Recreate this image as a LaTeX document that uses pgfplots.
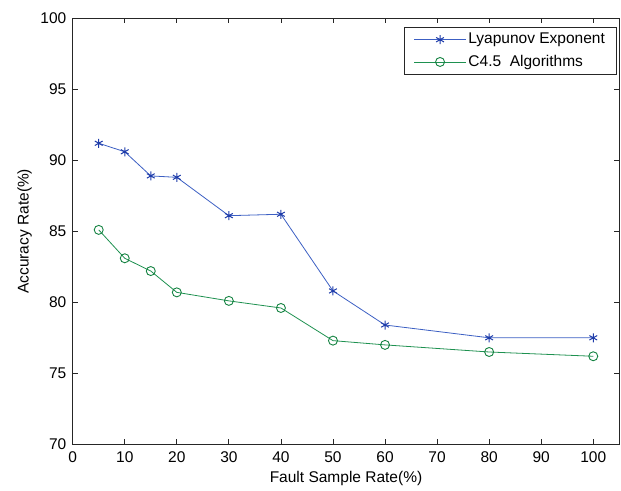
\documentclass[border=0pt]{standalone}
\usepackage{fontspec}
\setmainfont{Liberation Sans}
\usepackage{pgfplots}
\pgfplotsset{compat=1.18}
\definecolor{lyblue}{RGB}{60,95,195}
\definecolor{lybluemark}{RGB}{30,60,170}
\definecolor{c45green}{RGB}{30,145,80}
\definecolor{c45greenmark}{RGB}{20,130,65}
\begin{document}
\fontsize{15.5}{18}\selectfont
\begin{tikzpicture}
\begin{axis}[
  scale only axis,
  width=546.6pt, height=426pt,
  xmin=0, xmax=105, ymin=70, ymax=100,
  xtick={0,10,...,100}, ytick={70,75,...,100},
  tick align=inside,
  major tick length=5pt,
  axis line style={line width=0.8pt, black!85},
  every tick/.style={line width=0.8pt, black!85},
  /pgf/number format/assume math mode=true,
  tick label style={font=\fontsize{15.5}{18}\selectfont},
  label style={font=\fontsize{15.5}{18}\selectfont},
  xlabel={Fault Sample Rate(\%)},
  ylabel={Accuracy Rate(\%)},
  xlabel style={yshift=2pt},
  ylabel style={yshift=-2pt},
  xticklabel style={yshift=-2pt},
  yticklabel style={xshift=-1pt},
  legend style={at={(1,1)}, anchor=north east, xshift=-3pt, yshift=-8.5pt,
    draw=black!85, line width=0.8pt, font=\fontsize{15.5}{18}\selectfont,
    inner xsep=9pt, inner ysep=4pt, row sep=5pt},
  legend cell align=left,
  legend image code/.code={\draw[mark repeat=2,mark phase=2,#1] plot coordinates {(0pt,0pt) (26pt,0pt) (52pt,0pt)};},
]
\addplot[color=lyblue, line width=0.8pt, mark=asterisk, mark size=4.5pt, mark options={line width=1pt, draw=lybluemark}]
  coordinates {(5,91.2) (10,90.6) (15,88.9) (20,88.8) (30,86.1) (40,86.2) (50,80.8) (60,78.4) (80,77.5) (100,77.5)};
\addlegendentry{Lyapunov Exponent}
\addplot[color=c45green, line width=0.8pt, mark=o, mark size=4.5pt, mark options={line width=0.9pt, draw=c45greenmark}]
  coordinates {(5,85.1) (10,83.1) (15,82.2) (20,80.7) (30,80.1) (40,79.6) (50,77.3) (60,77.0) (80,76.5) (100,76.2)};
\addlegendentry{C4.5~~Algorithms}
\end{axis}
\path[use as bounding box] (current axis.south west) ++(-72.7pt,-45.7pt) rectangle ([shift={(1.7pt,18.3pt)}]current axis.north east);
\end{tikzpicture}
\end{document}
